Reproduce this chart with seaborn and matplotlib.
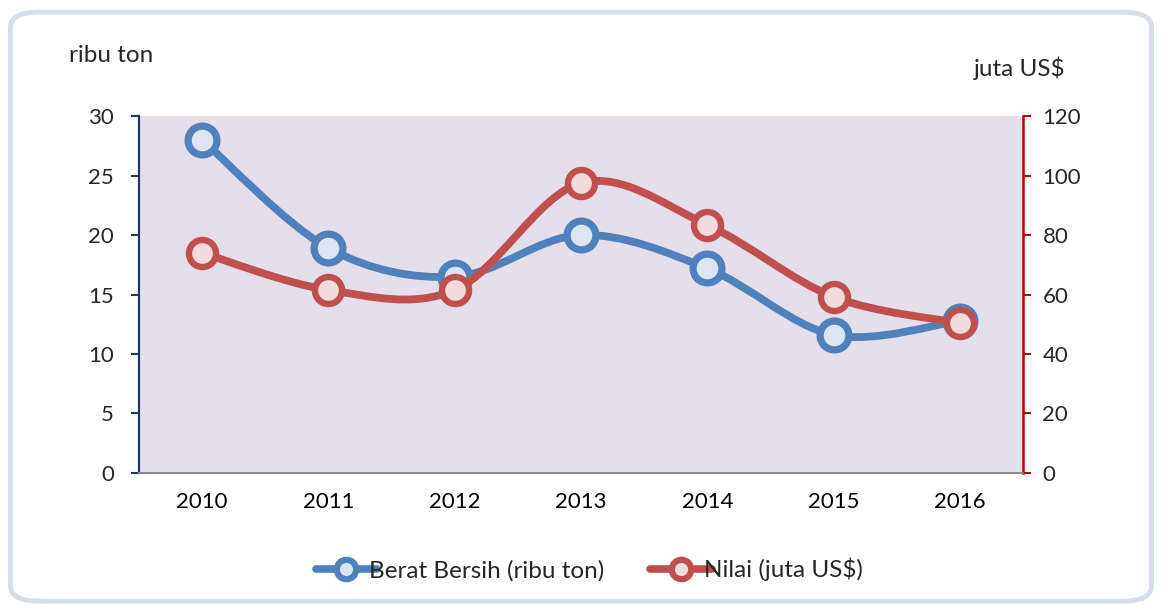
import numpy as np
import pandas as pd
import seaborn as sns
import matplotlib.pyplot as plt
from matplotlib.path import Path
from matplotlib.patches import PathPatch, FancyBboxPatch
from matplotlib.lines import Line2D

# data
years = ['2010', '2011', '2012', '2013', '2014', '2015', '2016']
berat = [28.0, 18.9, 16.5, 20.0, 17.2, 11.6, 12.8]   # ribu ton
nilai = [74.0, 61.5, 61.5, 97.5, 83.4, 59.2, 50.4]   # juta US$

blue = '#4F81BD'
red = '#C0504D'
blue_fill = '#DCE6F2'
red_fill = '#F2DCDB'

sns.set_style('white')
plt.rcParams['font.family'] = ['Lato', 'DejaVu Sans']
fs = 16
fs_big = 17.5

df = pd.DataFrame({'tahun': years, 'x': np.arange(len(years)), 'berat': berat, 'nilai': nilai})


def smooth_path(xs, ys):
    # excel-like smoothed line: catmull-rom segments as cubic bezier
    xs = np.asarray(xs, float)
    ys = np.asarray(ys, float)
    pts = np.column_stack([xs, ys])
    n = len(pts)
    verts = [pts[0]]
    codes = [Path.MOVETO]
    for i in range(n - 1):
        p0 = pts[i - 1] if i > 0 else pts[i]
        p1 = pts[i]
        p2 = pts[i + 1]
        p3 = pts[i + 2] if i + 2 < n else pts[i + 1]
        c1 = p1 + (p2 - p0) / 6
        c2 = p2 - (p3 - p1) / 6
        verts += [c1, c2, p2]
        codes += [Path.CURVE4] * 3
    return Path(verts, codes)


fig = plt.figure(figsize=(11.62, 6.06), dpi=100)
fig.patches.append(FancyBboxPatch((0.009, 0.008), 0.982, 0.972, boxstyle='round,pad=0,rounding_size=0.025',
                                  transform=fig.transFigure, fc='white', ec='#D3DEE9', lw=3.5, zorder=-10))

ax = fig.add_axes([0.1196, 0.2195, 0.7608, 0.589])
ax.set_facecolor('#E5DFEC')
ax2 = ax.twinx()

ax.add_patch(PathPatch(smooth_path(df['x'], df['berat']), fc='none', ec=blue, lw=5.6,
                       capstyle='round', joinstyle='round', zorder=2))
sns.scatterplot(data=df, x='x', y='berat', ax=ax, s=430, color=blue_fill, edgecolor=blue,
                linewidth=5.2, zorder=3, legend=False)

ax2.add_patch(PathPatch(smooth_path(df['x'], df['nilai']), fc='none', ec=red, lw=5.6,
                        capstyle='round', joinstyle='round', zorder=2))
sns.scatterplot(data=df, x='x', y='nilai', ax=ax2, s=380, color=red_fill, edgecolor=red,
                linewidth=4.6, zorder=3, legend=False)

ax.set_xlim(-0.5, len(years) - 0.5)
ax.set_ylim(0, 30)
ax2.set_ylim(0, 120)
ax.set_yticks(range(0, 31, 5))
ax2.set_yticks(range(0, 121, 20))
ax.set_xticks(df['x'])
ax.set_xticklabels(years)
ax.set_xticks(np.arange(-0.5, len(years)), minor=True)
ax.set_xlabel('')
ax.set_ylabel('')
ax2.set_ylabel('')

for a in (ax, ax2):
    a.spines['top'].set_visible(False)
    a.spines['bottom'].set_color('#868686')
    a.spines['bottom'].set_linewidth(1.2)
ax.spines['right'].set_visible(False)
ax.spines['left'].set_color('#1F3864')
ax.spines['left'].set_linewidth(1.6)
ax2.spines['left'].set_visible(False)
ax2.spines['right'].set_color('#C00000')
ax2.spines['right'].set_linewidth(1.8)

ax.tick_params(axis='x', which='major', length=0, labelsize=fs, pad=14, colors='black')
ax.tick_params(axis='x', which='minor', length=7, width=1.2, color='#868686', direction='out')
ax.tick_params(axis='y', length=6, width=1.5, color='#1F3864', labelsize=fs, pad=12, direction='out')
ax2.tick_params(axis='y', length=6, width=1.5, color='#C00000', labelsize=fs, pad=8, direction='out')
ax.grid(False)
ax2.grid(False)

fig.text(0.059, 0.908, 'ribu ton', fontsize=fs_big, ha='left', va='center')
fig.text(0.838, 0.887, 'juta US$', fontsize=fs_big, ha='left', va='center')

handles = [
    Line2D([], [], color=blue, lw=5.5, marker='o', ms=14, mfc=blue_fill, mec=blue, mew=4.5,
           label='Berat Bersih (ribu ton)'),
    Line2D([], [], color=red, lw=5.5, marker='o', ms=14, mfc=red_fill, mec=red, mew=4.5,
           label='Nilai (juta US$)'),
]
fig.legend(handles=handles, loc='center', bbox_to_anchor=(0.507, 0.06), ncol=2, frameon=False,
           fontsize=fs_big, handlelength=2.55, handletextpad=-0.35, columnspacing=1.9)

fig.savefig('out.png', dpi=100)
